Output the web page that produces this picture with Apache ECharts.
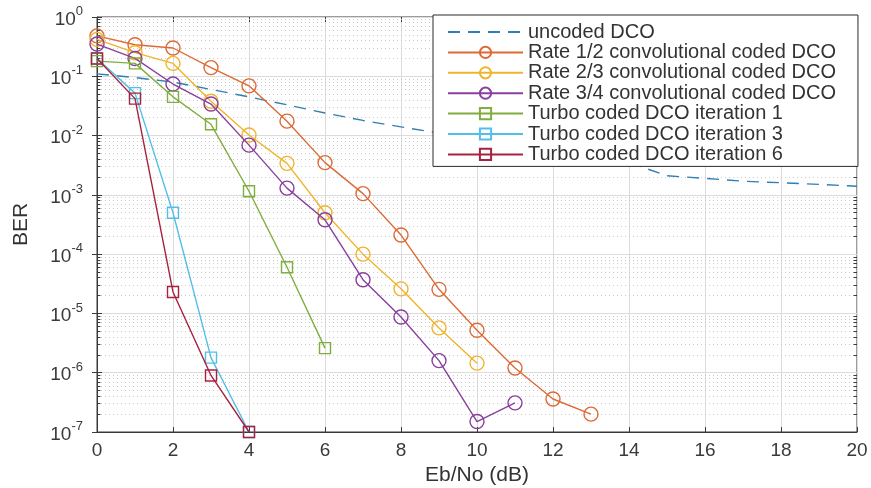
<!DOCTYPE html>
<html>
<head>
<meta charset="utf-8">
<script src="https://cdn.jsdelivr.net/npm/echarts@6/dist/echarts.min.js"></script>
<style>
html,body{margin:0;padding:0;background:#fff;}
#chart{width:871px;height:488px;}
</style>
</head>
<body>
<div id="chart"></div>
<script>
// ---- data ----
const seriesNames = [
  'uncoded DCO',
  'Rate 1/2 convolutional coded DCO',
  'Rate 2/3 convolutional coded DCO',
  'Rate 3/4 convolutional coded DCO',
  'Turbo coded DCO iteration 1',
  'Turbo coded DCO iteration 3',
  'Turbo coded DCO iteration 6'
];
const xUncoded = [0,1,2,3,4,5,6,7,8,9,10,11,12,13,14,15,16,17,18,19,20];
const berUncoded = [0.11,0.095,0.08,0.06,0.045,0.033,0.024,0.018,0.014,0.011,0.0085,0.0068,0.0055,0.0045,0.0035,0.0021,0.0019,0.0017,0.0016,0.0015,0.0014];
const xRate12 = [0,1,2,3,4,5,6,7,8,9,10,11,12,13];
const berRate12 = [0.48,0.34,0.30,0.14,0.069,0.0175,0.0035,0.00105,2.1e-4,2.55e-5,5.2e-6,1.2e-6,3.6e-7,2.0e-7];
const xRate23 = [0,1,2,3,4,5,6,7,8,9,10];
const berRate23 = [0.42,0.25,0.165,0.038,0.0102,0.0034,5.0e-4,1.0e-4,2.6e-5,5.7e-6,1.45e-6];
const xRate34 = [0,1,2,3,4,5,6,7,8,9,10,11];
const berRate34 = [0.35,0.2,0.074,0.034,0.0069,0.0013,3.8e-4,3.7e-5,8.7e-6,1.6e-6,1.5e-7,3.1e-7];
const xTurbo1 = [0,1,2,3,4,5,6];
const berTurbo1 = [0.18,0.165,0.045,0.0155,0.00115,6.0e-5,2.6e-6];
const xTurbo3 = [0,1,2,3,4];
const berTurbo3 = [0.2,0.052,5.0e-4,1.8e-6,1e-7];
const xTurbo6 = [0,1,2,3,4];
const berTurbo6 = [0.2,0.042,2.3e-5,9e-7,1e-7];
const xTicks = [0,2,4,6,8,10,12,14,16,18,20];

// ---- styling ----
const colors = ['#2e7fb3','#dd6a35','#efb42c','#8a3f9e','#7fae3c','#53bfe9','#a8223f'];
const FONT = 'Liberation Sans, Arial, sans-serif';
const pairs = (xs, ys) => xs.map((x, i) => [x, ys[i]]);
const X_MIN = xTicks[0], X_MAX = xTicks[xTicks.length - 1];

function lineSeries(idx, xs, ys, symbol, size, dashed) {
  const c = colors[idx];
  return {
    name: seriesNames[idx],
    type: 'line',
    data: pairs(xs, ys),
    symbol: symbol === 'none' ? 'circle' : symbol,
    symbolSize: size,
    showSymbol: symbol !== 'none',
    z: 3 + idx,
    lineStyle: {color: c, width: 1.4, type: dashed ? [12, 8] : 'solid'},
    itemStyle: {color: 'rgba(255,255,255,0)', borderColor: symbol === 'none' ? 'rgba(0,0,0,0)' : c, borderWidth: 1.4},
    emphasis: {disabled: true},
    animation: false
  };
}

// minor grid values (2..9 x 10^k)
const minorVals = [];
for (let k = -7; k < 0; k++) for (let m = 2; m <= 9; m++) minorVals.push(m * Math.pow(10, k));
const tickLen = 0.09; // in x units (~3.4px)

const chart = echarts.init(document.getElementById('chart'), null, {renderer: 'canvas'});
const option = {
  backgroundColor: '#ffffff',
  animation: false,
  grid: {left: 97, top: 17, width: 760, height: 415, show: true, borderColor: '#3a3a3a', borderWidth: 1,
         backgroundColor: 'transparent', containLabel: false, outerBoundsMode: 'none'},
  legend: {
    data: seriesNames,
    orient: 'vertical',
    left: 433,
    top: 15,
    padding: [7, 22, 2, 14],
    itemWidth: 75,
    itemHeight: 14,
    itemGap: 0.4,
    backgroundColor: '#ffffff',
    borderColor: '#2b2b2b',
    borderWidth: 1,
    selectedMode: false,
    textStyle: {fontFamily: FONT, fontSize: 20, color: '#333333'}
  },
  xAxis: [{
    type: 'value', min: X_MIN, max: X_MAX, interval: 2,
    name: 'Eb/No (dB)', nameLocation: 'middle', nameGap: 26,
    nameTextStyle: {fontFamily: FONT, fontSize: 21, color: '#333333'},
    axisLine: {show: true, lineStyle: {color: '#3a3a3a', width: 1}},
    axisTick: {show: true, inside: true, length: 5, lineStyle: {color: '#3a3a3a'}},
    axisLabel: {fontFamily: FONT, fontSize: 19, color: '#3a3a3a', margin: 9},
    splitLine: {show: true, lineStyle: {color: '#dcdcdc', width: 1}}
  }, {
    type: 'value', min: X_MIN, max: X_MAX, interval: 2, position: 'top',
    axisLine: {show: false},
    axisTick: {show: true, inside: true, length: 5, lineStyle: {color: '#3a3a3a'}},
    axisLabel: {show: false}, splitLine: {show: false}
  }],
  yAxis: [{
    type: 'log', logBase: 10, min: 1e-7, max: 1, splitNumber: 7,
    name: 'BER', nameLocation: 'middle', nameGap: 65, nameRotate: 90,
    nameTextStyle: {fontFamily: FONT, fontSize: 21, color: '#333333'},
    axisLine: {show: true, lineStyle: {color: '#3a3a3a', width: 1}},
    axisTick: {show: true, inside: true, length: 5, lineStyle: {color: '#3a3a3a'}},
    axisLabel: {
      margin: 14,
      formatter: function (v) {
        const e = Math.round(Math.log10(v));
        return '{b|10}{s|' + e + '}';
      },
      rich: {
        b: {fontFamily: FONT, fontSize: 19, color: '#3a3a3a', lineHeight: 24, verticalAlign: 'bottom'},
        s: {fontFamily: FONT, fontSize: 13, color: '#3a3a3a', lineHeight: 24, verticalAlign: 'top'}
      }
    },
    splitLine: {show: true, lineStyle: {color: '#dcdcdc', width: 1}}
  }, {
    type: 'log', logBase: 10, min: 1e-7, max: 1, splitNumber: 7, position: 'right',
    axisLine: {show: false},
    axisTick: {show: true, inside: true, length: 5, lineStyle: {color: '#3a3a3a'}},
    axisLabel: {show: false}, splitLine: {show: false}
  }],
  series: [
    {
      name: 'minor-grid', type: 'lines', coordinateSystem: 'cartesian2d', z: 1, silent: true,
      animation: false, polyline: false,
      lineStyle: {color: '#cbcbcb', width: 1, type: [1, 3], opacity: 1},
      data: minorVals.map(v => ({coords: [[X_MIN, v], [X_MAX, v]]}))
    },
    {
      name: 'minor-ticks', type: 'lines', coordinateSystem: 'cartesian2d', z: 2, silent: true,
      animation: false, polyline: false,
      lineStyle: {color: '#3a3a3a', width: 1, opacity: 1},
      data: minorVals.map(v => ({coords: [[X_MIN, v], [X_MIN + tickLen, v]]}))
        .concat(minorVals.map(v => ({coords: [[X_MAX - tickLen, v], [X_MAX, v]]})))
    },
    lineSeries(0, xUncoded, berUncoded, 'none', 0, true),
    lineSeries(1, xRate12, berRate12, 'circle', 14, false),
    lineSeries(2, xRate23, berRate23, 'circle', 14, false),
    lineSeries(3, xRate34, berRate34, 'circle', 14, false),
    lineSeries(4, xTurbo1, berTurbo1, 'rect', 11, false),
    lineSeries(5, xTurbo3, berTurbo3, 'rect', 11, false),
    lineSeries(6, xTurbo6, berTurbo6, 'rect', 11, false)
  ]
};
chart.setOption(option);
</script>
</body>
</html>
